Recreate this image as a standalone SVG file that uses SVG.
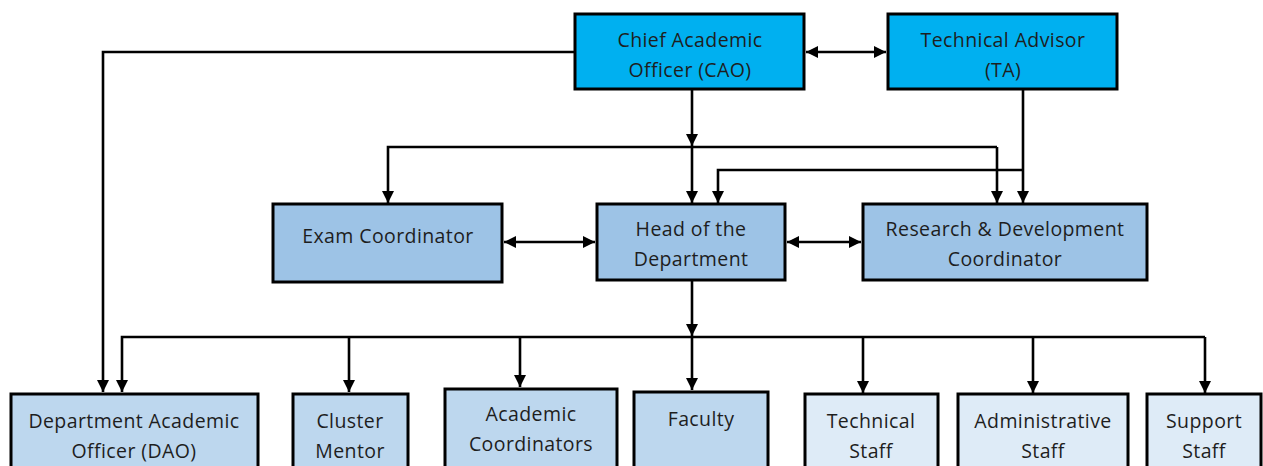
<svg xmlns="http://www.w3.org/2000/svg" width="1263" height="466" viewBox="0 0 1263 466">
<style>
.box{stroke:#000;stroke-width:3}
.top{fill:#00B0F0}
.mid{fill:#9DC3E6}
.low{fill:#BDD7EE}
.pale{fill:#DEEBF7}
text{font-family:"Open Sans","Noto Sans",sans-serif;font-size:19.5px;letter-spacing:0.4px;fill:#1e1e1e;text-anchor:middle}
.c{fill:none;stroke:#000;stroke-width:2.6}
</style>
<defs>
<marker id="ah" markerUnits="userSpaceOnUse" markerWidth="12" markerHeight="12" refX="12" refY="6" orient="auto-start-reverse">
<path d="M0,0 L12,6 L0,12 z" fill="#000"/>
</marker>
</defs>
<rect width="1263" height="466" fill="#fff"/>
<g id="connectors">
<path class="c" d="M575,52 H103 V392" marker-end="url(#ah)"/>
<path class="c" d="M806,52 H886" marker-start="url(#ah)" marker-end="url(#ah)"/>
<path class="c" d="M692,89 V146" marker-end="url(#ah)"/>
<path class="c" d="M692,146 V203" marker-end="url(#ah)"/>
<path class="c" d="M997,147 H388 V203" marker-end="url(#ah)"/>
<path class="c" d="M997,147 V203" marker-end="url(#ah)"/>
<path class="c" d="M1023,89 V203" marker-end="url(#ah)"/>
<path class="c" d="M1023,170 H718 V203" marker-end="url(#ah)"/>
<path class="c" d="M504,242 H595" marker-start="url(#ah)" marker-end="url(#ah)"/>
<path class="c" d="M787,242 H861" marker-start="url(#ah)" marker-end="url(#ah)"/>
<path class="c" d="M692,281 V336" marker-end="url(#ah)"/>
<path class="c" d="M1205,337 H122 V392" marker-end="url(#ah)"/>
<path class="c" d="M349,337 V392" marker-end="url(#ah)"/>
<path class="c" d="M520,337 V387" marker-end="url(#ah)"/>
<path class="c" d="M692,337 V390" marker-end="url(#ah)"/>
<path class="c" d="M863,337 V393" marker-end="url(#ah)"/>
<path class="c" d="M1033,337 V393" marker-end="url(#ah)"/>
<path class="c" d="M1205,337 V393" marker-end="url(#ah)"/>
</g>
<g id="cao"><rect class="box top" x="575" y="14" width="229" height="75"/><text x="690" y="47">Chief Academic</text><text x="690" y="77">Officer (CAO)</text></g>
<g id="ta"><rect class="box top" x="888" y="14" width="229" height="75"/><text x="1003" y="47">Technical Advisor</text><text x="1003" y="77">(TA)</text></g>
<g id="exam"><rect class="box mid" x="273" y="204" width="229" height="78"/><text x="388" y="243">Exam Coordinator</text></g>
<g id="hod"><rect class="box mid" x="597" y="204" width="188" height="76"/><text x="691" y="236">Head of the</text><text x="691" y="266">Department</text></g>
<g id="rnd"><rect class="box mid" x="863" y="204" width="284" height="76"/><text x="1005" y="236">Research &amp; Development</text><text x="1005" y="266">Coordinator</text></g>
<g id="dao"><rect class="box low" x="11" y="394" width="247" height="90"/><text x="134" y="428">Department Academic</text><text x="134" y="458">Officer (DAO)</text></g>
<g id="cluster"><rect class="box low" x="293" y="394" width="115" height="90"/><text x="350" y="428">Cluster</text><text x="350" y="458">Mentor</text></g>
<g id="academic"><rect class="box low" x="445" y="389" width="172" height="95"/><text x="531" y="421">Academic</text><text x="531" y="451">Coordinators</text></g>
<g id="faculty"><rect class="box low" x="634" y="392" width="134" height="92"/><text x="701" y="426">Faculty</text></g>
<g id="technical"><rect class="box pale" x="805" y="394" width="133" height="90"/><text x="871" y="428">Technical</text><text x="871" y="458">Staff</text></g>
<g id="admin"><rect class="box pale" x="958" y="394" width="170" height="90"/><text x="1043" y="428">Administrative</text><text x="1043" y="458">Staff</text></g>
<g id="support"><rect class="box pale" x="1147" y="394" width="114" height="90"/><text x="1204" y="428">Support</text><text x="1204" y="458">Staff</text></g>
</svg>
